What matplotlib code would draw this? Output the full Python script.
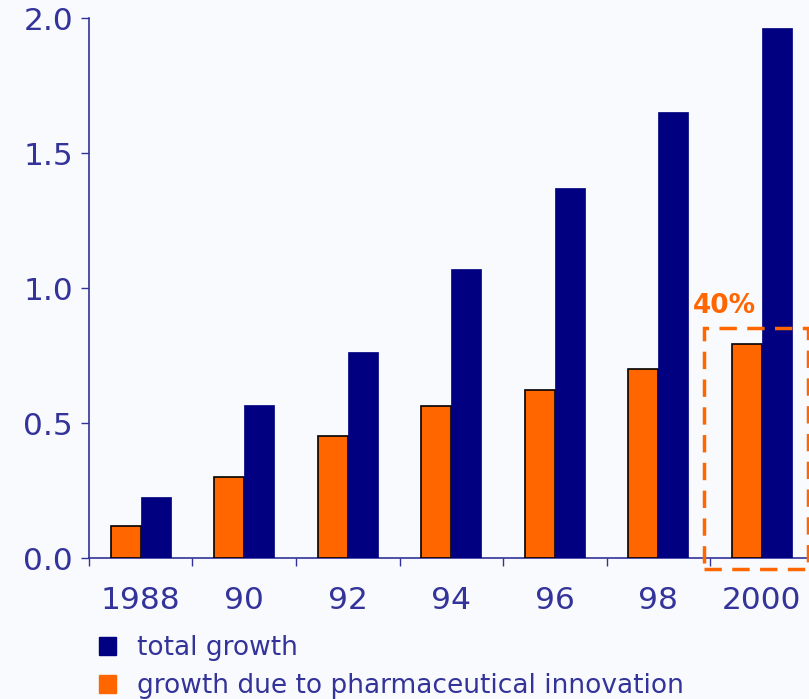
import numpy as np
import matplotlib.pyplot as plt
from matplotlib.patches import Patch, Rectangle

years = ['1988', '90', '92', '94', '96', '98', '2000']
total_growth = [0.225, 0.565, 0.763, 1.07, 1.37, 1.652, 1.963]
pharma_growth = [0.118, 0.30, 0.452, 0.563, 0.622, 0.70, 0.793]

navy = '#000080'
orange = '#FF6600'
txt = '#333399'
bg = '#F8FAFD'

fig = plt.figure(figsize=(8.09, 6.99), dpi=100, facecolor=bg)
ax = fig.add_axes([0.110, 0.2017, 0.8956, 0.7725], facecolor=bg)

x = np.arange(len(years))
w = 0.29
ax.bar(x - w / 2, pharma_growth, w, color=orange, edgecolor='black', linewidth=1.2, zorder=3)
ax.bar(x + w / 2, total_growth, w, color=navy, edgecolor=navy, linewidth=0.5, zorder=3)

ax.set_xlim(-0.5, 6.5)
ax.set_ylim(0, 2.0)
ax.set_yticks([0, 0.5, 1.0, 1.5, 2.0])
ax.set_yticklabels(['0.0', '0.5', '1.0', '1.5', '2.0'])
ax.set_xticks(x)
ax.set_xticklabels(years)
ax.set_xticks(np.arange(-0.5, 7, 1), minor=True)
ax.tick_params(axis='x', which='major', length=0, pad=20, labelsize=22.5, labelcolor=txt)
ax.tick_params(axis='x', which='minor', length=6, color=txt, width=1)
ax.tick_params(axis='y', length=6, color=txt, width=1, pad=5.5, labelsize=22.5, labelcolor=txt)

for s in ['top', 'right']:
    ax.spines[s].set_visible(False)
for s in ['left', 'bottom']:
    ax.spines[s].set_color(txt)
    ax.spines[s].set_linewidth(1.2)

# dashed box highlighting the 2000 share
box = Rectangle((5.44, -0.04), 1.01, 0.892, fill=False, edgecolor=orange,
                linestyle=(0, (5, 3)), linewidth=2.5, clip_on=False, zorder=5)
ax.add_patch(box)
ax.text(5.64, 0.935, '40%', color=orange, fontsize=19, fontweight='bold',
        ha='center', va='center', zorder=6)

handles = [Patch(facecolor=navy, edgecolor=navy), Patch(facecolor=orange, edgecolor=orange)]
fig.legend(handles, ['total growth', 'growth due to pharmaceutical innovation'],
           loc='upper left', bbox_to_anchor=(0.1224, 0.0914), frameon=False,
           borderpad=0, borderaxespad=0,
           fontsize=19, labelcolor=txt, handlelength=0.65, handleheight=0.65,
           handletextpad=0.8, labelspacing=0.46)

fig.savefig('out.png', dpi=100, facecolor=bg)
